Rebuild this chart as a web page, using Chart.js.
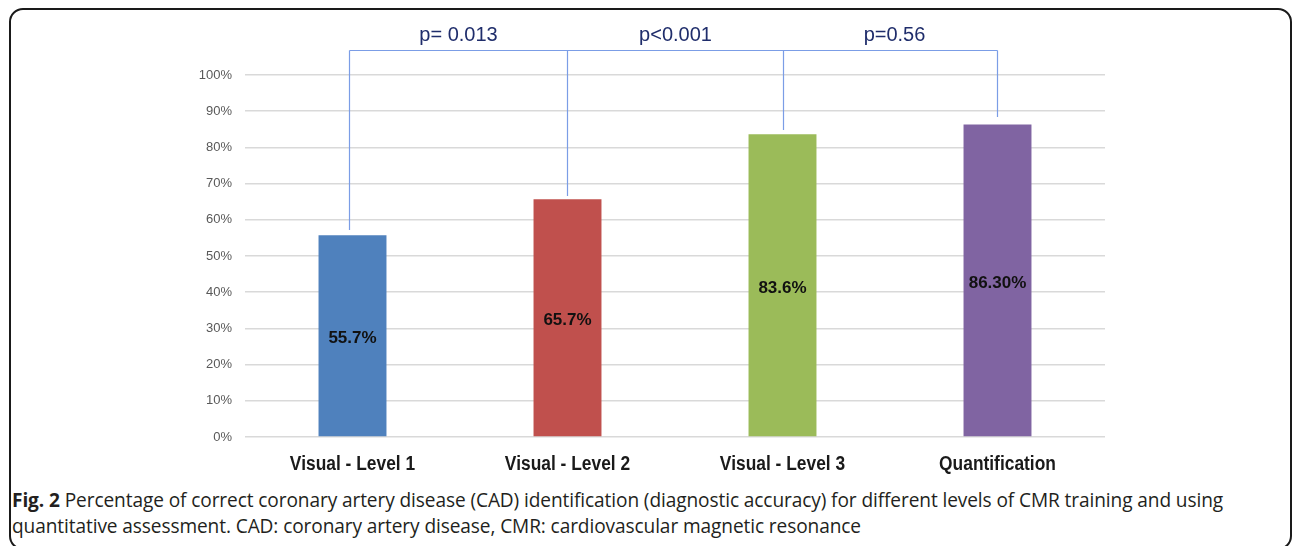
<!DOCTYPE html>
<html>
<head>
<meta charset="utf-8">
<script src="https://cdn.jsdelivr.net/npm/chart.js@4/dist/chart.umd.min.js"></script>
<style>
  html, body { margin: 0; padding: 0; background: #fff; width: 1292px; height: 546px; overflow: hidden; }
  #frame { position: absolute; left: 9px; top: 8px; width: 1283px; height: 542px; box-sizing: border-box;
           border: 2px solid #1a1a1a; border-radius: 14px; }
  #wrap { position: absolute; left: 0; top: 0; width: 1292px; height: 480px; }
  #caption { position: absolute; left: 12px; top: 487px; width: 1275px; font-family: "Open Sans", sans-serif;
             font-size: 19.1px; line-height: 26px; color: #231f20; white-space: nowrap; letter-spacing: -0.1px; }
  #caption b { font-weight: 700; }
</style>
</head>
<body>
<div id="frame"></div>
<div id="wrap"><canvas id="c" width="1292" height="480"></canvas></div>
<div id="caption"><b>Fig. 2</b> Percentage of correct coronary artery disease (CAD) identification (diagnostic accuracy) for different levels of CMR training and using<br>quantitative assessment. CAD: coronary artery disease, CMR: cardiovascular magnetic resonance</div>
<script>
const categories = ["Visual - Level 1", "Visual - Level 2", "Visual - Level 3", "Quantification"];
const accuracy = [55.7, 65.7, 83.6, 86.3];
const valueLabels = ["55.7%", "65.7%", "83.6%", "86.30%"];
const barColors = ["#4f81bd", "#c0504d", "#9bbb59", "#8064a2"];
const yTicks = [0, 10, 20, 30, 40, 50, 60, 70, 80, 90, 100];
const pLabels = ["p= 0.013", "p<0.001", "p=0.56"];
const bracketLevel = 107.0;
const bracketTips = [57.2, 66.6, 84.8, 88.4];

// style-only nudges (pixels)
const bracketNudge = [-4, -1, 0, -1];
const pLabelNudge = [0, 0, 4];

const valueLabelPlugin = {
  id: 'valueLabels',
  afterDatasetsDraw(chart) {
    const ctx = chart.ctx;
    const meta = chart.getDatasetMeta(0);
    ctx.save();
    ctx.font = 'bold 17px "Liberation Sans", Arial, sans-serif';
    ctx.fillStyle = '#111';
    ctx.textAlign = 'center';
    ctx.textBaseline = 'middle';
    meta.data.forEach((bar, i) => {
      const y = (bar.y + bar.base) / 2 + 3;
      ctx.fillText(valueLabels[i], bar.x, y);
    });
    ctx.restore();
  }
};

const xLabelPlugin = {
  id: 'xLabels',
  afterDraw(chart) {
    const ctx = chart.ctx;
    const xs = chart.scales.x;
    ctx.save();
    ctx.font = 'bold 19px "Liberation Sans", Arial, sans-serif';
    ctx.fillStyle = '#1a1a1a';
    ctx.textAlign = 'center';
    ctx.textBaseline = 'middle';
    categories.forEach((t, i) => {
      const x = xs.getPixelForValue(i);
      ctx.save();
      ctx.translate(x, chart.chartArea.bottom + 28);
      ctx.scale(0.915, 1.03);
      ctx.fillText(t, 0, 0);
      ctx.restore();
    });
    ctx.restore();
  }
};

const bracketPlugin = {
  id: 'brackets',
  afterDraw(chart) {
    const ctx = chart.ctx;
    const xs = chart.scales.x, ys = chart.scales.y;
    const yTop = Math.round(ys.getPixelForValue(bracketLevel)) + 0.5;
    const bx = bracketTips.map((v, i) => Math.round(xs.getPixelForValue(i) + bracketNudge[i]) + 0.5);
    ctx.save();
    ctx.strokeStyle = '#7b9de6';
    ctx.lineWidth = 1.2;
    ctx.beginPath();
    ctx.moveTo(bx[0], yTop);
    ctx.lineTo(bx[bx.length - 1], yTop);
    bracketTips.forEach((v, i) => {
      ctx.moveTo(bx[i], yTop);
      ctx.lineTo(bx[i], ys.getPixelForValue(v));
    });
    ctx.stroke();
    ctx.font = '20px "Liberation Sans", Arial, sans-serif';
    ctx.fillStyle = '#1f2d6b';
    ctx.textAlign = 'center';
    ctx.textBaseline = 'middle';
    pLabels.forEach((t, i) => {
      const x = (bx[i] + bx[i + 1]) / 2 + pLabelNudge[i];
      ctx.fillText(t, x, yTop - 15);
    });
    ctx.restore();
  }
};

new Chart(document.getElementById('c'), {
  type: 'bar',
  data: {
    labels: categories,
    datasets: [{
      data: accuracy,
      backgroundColor: barColors,
      borderWidth: 0,
      categoryPercentage: 1,
      barPercentage: 0.316
    }]
  },
  options: {
    responsive: false,
    animation: false,
    devicePixelRatio: 1,
    layout: { padding: { top: 75, right: 187, left: 0, bottom: 0 } },
    plugins: { legend: { display: false }, tooltip: { enabled: false } },
    scales: {
      x: {
        grid: { display: false, drawTicks: false },
        border: { display: false },
        ticks: { display: false },
        afterFit(axis) { axis.height = 43; }
      },
      y: {
        min: 0, max: 100,
        afterBuildTicks(axis) { axis.ticks = yTicks.map(v => ({ value: v })); },
        grid: { color: '#d9d9d9', lineWidth: 1.5, drawTicks: false },
        border: { display: false },
        ticks: {
          padding: 13,
          color: '#595959',
          font: { family: '"Liberation Sans", Arial, sans-serif', size: 13 },
          callback: v => v + '%'
        },
        afterFit(axis) { axis.width = 245; }
      }
    }
  },
  plugins: [valueLabelPlugin, xLabelPlugin, bracketPlugin]
});
</script>
</body>
</html>
